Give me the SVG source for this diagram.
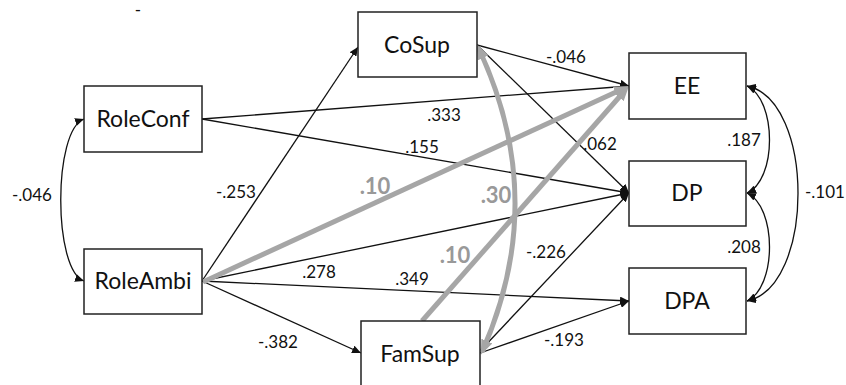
<svg xmlns="http://www.w3.org/2000/svg" width="846" height="385" viewBox="0 0 846 385">
<style>
.box{fill:#fff;stroke:#222;stroke-width:1.5}
.nl{font-family:Lato,"Open Sans",sans-serif;font-size:23px;fill:#111;text-anchor:middle}
.lb{font-family:Lato,"Open Sans",sans-serif;font-size:17px;fill:#111;text-anchor:middle}
.gl{font-family:Lato,"Open Sans",sans-serif;font-size:22px;font-weight:bold;fill:#999;text-anchor:middle}
.ln{fill:none;stroke:#111;stroke-width:1.3;marker-end:url(#ah)}
.cv{fill:none;stroke:#111;stroke-width:1.3;marker-start:url(#ah);marker-end:url(#ah)}
.gr{fill:none;stroke:#a6a6a6;stroke-width:5;marker-end:url(#gh)}
</style>
<defs>
<marker id="ah" markerUnits="userSpaceOnUse" markerWidth="9" markerHeight="8" refX="9" refY="4" orient="auto-start-reverse"><path d="M0,0 L9,4 L0,8 z" fill="#111"/></marker>
<marker id="gh" markerUnits="userSpaceOnUse" markerWidth="15" markerHeight="12" refX="5" refY="6" orient="auto-start-reverse"><path d="M0,0 L15,6 L0,12 z" fill="#a6a6a6"/></marker>
<marker id="gh2" markerUnits="userSpaceOnUse" markerWidth="15" markerHeight="12" refX="12" refY="6" orient="auto-start-reverse"><path d="M0,0 L15,6 L0,12 z" fill="#a6a6a6"/></marker>
</defs>
<text class="lb" x="138" y="16">-</text>
<g id="connectors">
<path class="cv" d="M84,119 C53,130 53,270 84,281"/>
<path class="ln" d="M202,119 L629,86"/>
<path class="ln" d="M202,119 L629,193"/>
<path class="ln" d="M202,281 L358,47"/>
<path class="ln" d="M202,281 L629,193"/>
<path class="ln" d="M202,281 L629,301"/>
<path class="ln" d="M202,281 L361,353"/>
<path class="ln" d="M477,45 L629,86"/>
<path class="ln" d="M477,45 L629,193"/>
<path class="ln" d="M480,351 L629,193"/>
<path class="ln" d="M480,353 L629,301"/>
<path class="cv" d="M747,86 C777,100 777,180 747,193"/>
<path class="cv" d="M747,193 C777,207 777,287 747,301"/>
<path class="cv" d="M747,86 C815,100 815,287 747,301"/>
<path class="gr" d="M203,282 L619.9,90.2"/>
<path class="gr" d="M422,321 L622.4,93.5"/>
<path d="M482,352 Q550,199 478,47" fill="none" stroke="#a6a6a6" stroke-width="5" marker-start="url(#gh2)" marker-end="url(#gh2)"/>
<text class="lb" x="32" y="201">-.046</text>
<text class="lb" x="444" y="121">.333</text>
<text class="lb" x="422" y="153">.155</text>
<text class="lb" x="236" y="198">-.253</text>
<text class="gl" x="375" y="194">.10</text>
<text class="gl" x="496" y="203">.30</text>
<text class="gl" x="455" y="263">.10</text>
<text class="lb" x="566" y="63">-.046</text>
<text class="lb" x="600" y="150">.062</text>
<text class="lb" x="744" y="146">.187</text>
<text class="lb" x="744" y="253">.208</text>
<text class="lb" x="825" y="198">-.101</text>
<text class="lb" x="319" y="278">.278</text>
<text class="lb" x="412" y="285">.349</text>
<text class="lb" x="546" y="258">-.226</text>
<text class="lb" x="278" y="348">-.382</text>
<text class="lb" x="564" y="346">-.193</text>
</g>
<g id="RoleConf"><rect class="box" x="84" y="86" width="118" height="66"/><text class="nl" x="143" y="127">RoleConf</text></g>
<g id="RoleAmbi"><rect class="box" x="84" y="249" width="118" height="65"/><text class="nl" x="143" y="289">RoleAmbi</text></g>
<g id="CoSup"><rect class="box" x="358" y="12" width="119" height="65"/><text class="nl" x="417" y="53">CoSup</text></g>
<g id="FamSup"><rect class="box" x="361" y="321" width="119" height="66"/><text class="nl" x="420" y="362">FamSup</text></g>
<g id="EE"><rect class="box" x="629" y="53" width="117" height="66"/><text class="nl" x="687" y="94">EE</text></g>
<g id="DP"><rect class="box" x="629" y="161" width="117" height="65"/><text class="nl" x="687" y="201">DP</text></g>
<g id="DPA"><rect class="box" x="629" y="268" width="117" height="66"/><text class="nl" x="687" y="309">DPA</text></g>
</svg>
